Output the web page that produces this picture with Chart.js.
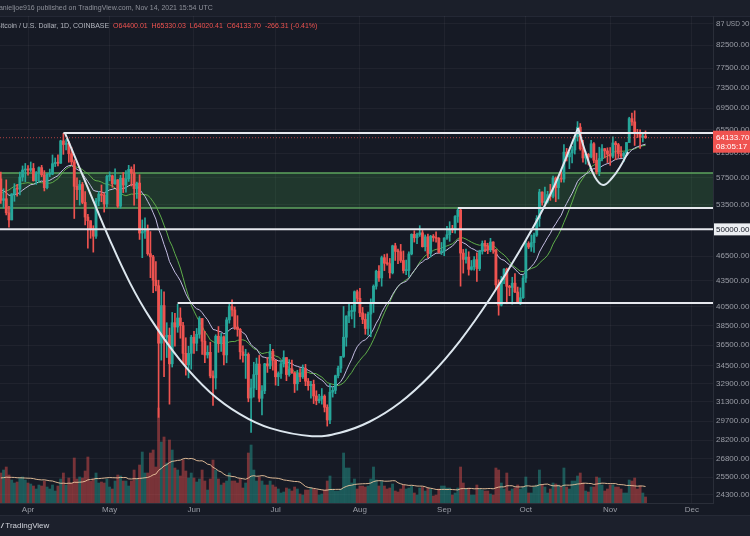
<!DOCTYPE html>
<html>
<head>
<meta charset="utf-8">
<script src="https://cdn.jsdelivr.net/npm/chart.js@4.4.1/dist/chart.umd.min.js"></script>
<style>
  html, body { margin: 0; padding: 0; background: #161a25; }
  #wrap { position: relative; width: 750px; height: 536px; background: #161a25; overflow: hidden; font-family: "Liberation Sans", Arial, sans-serif; }
  #topbar { position: absolute; left: 0; top: 0; width: 750px; height: 16px; background: #1b1f2a; border-bottom: 1px solid #242835; }
  #footer { position: absolute; left: 0; top: 515px; width: 750px; height: 21px; background: #1c202c; border-top: 1px solid #262a36; }
  #chart { position: absolute; left: 0; top: 0; }
  .txt { position: absolute; white-space: nowrap; z-index: 2; }
</style>
</head>
<body>
<div id="wrap">
  <div id="topbar"></div>
  <div id="footer"></div>
  <canvas id="chart" width="750" height="536"></canvas>
  <div class="txt" id="byline" style="left:-5px; top:3px; font-size:7px; line-height:10px; color:#8e919a;"></div>
  <div class="txt" id="legend" style="left:-4px; top:21px; font-size:7px; line-height:10px;"></div>
  <div class="txt" style="left:1px; top:521px; font-size:8px; line-height:10px; color:#d1d4dc;"><b style="font-style:italic;">/</b> TradingView</div>
</div>
<script>
// BTC/USD daily candles, Coinbase, 22 Mar 2021 .. 14 Nov 2021 (index = days after 22 Mar)
const priorCloses = [55850,57410,54090,48890,49680,47060,46280,46100,45160,49590,48440,50350,48360,48750,48880,50970,52380,54880,55860,57800,57230,61190,59000,55630,56900,58930,57650,58030,58100,57350];

const closes = [
  54100,54340,52300,51300,55050,55840,55780,57630,58750,58800,
  58730,58990,57060,58200,59130,57990,56000,58070,58100,59770,59980,59840,63580,62960,63200,61400,60050,56200,55700,56480,53800,51700,51180,50100,49080,54000,55030,54850,53570,57750,
  57830,56600,57200,53250,57450,56400,57350,58850,58250,55850,56700,49500,49700,49900,46800,46400,43550,42900,36700,40650,37300,37500,34700,38800,38350,39300,38500,35700,34600,35700,37300,
  36700,37600,39250,36900,35550,35800,33580,33400,37400,36700,37340,35550,39100,40550,40170,38350,38100,35850,35500,35600,31620,32500,33700,34680,31600,32250,34700,34500,35900,35040,
  33500,33800,34700,35300,33700,34230,33860,32870,33800,33500,34260,33100,32700,32820,31800,31400,31530,31780,30840,29790,32130,32290,33600,34290,35400,37300,39500,40000,40020,42210,41460,
  39850,39150,38200,39720,40880,42840,44620,43820,46300,45600,45560,44430,47820,47100,47050,45950,44700,44700,46770,49330,48870,49290,49530,47700,48990,46850,49080,48900,48800,46990,47150,
  48820,49280,50000,49940,51780,52700,46880,46080,46370,44850,45170,46050,44950,47110,48140,47770,47300,48310,47260,43000,40700,43570,44880,42830,42700,43200,42180,41030,41530,43800,
  48120,47660,48230,49230,51500,55330,53800,53950,54960,54690,57490,56010,57370,57320,61670,60880,61520,62030,64300,66000,62240,60700,61300,60870,63080,60330,58460,60600,62250,61880,61320,
  61000,63230,62930,61420,61010,61520,63300,67550,66950,64900,64800,64200,64400.01,64133.70
];
const highs = [
  58430,55830,57200,53230,55100,56600,56500,58400,59400,59800,
  59470,60040,59800,58500,59250,59500,58650,58160,58900,61200,60700,61200,63700,64900,63800,63500,62500,60400,57500,57100,56800,55400,52100,51200,50500,54400,55400,56400,55200,57950,
  58450,57950,58950,57250,57900,58350,58650,59500,59250,59600,56850,58000,51300,51600,50600,49700,46600,45800,43550,42450,42200,38800,38250,39900,39800,40800,40400,38850,37250,36400,37500,
  37900,38200,39450,39250,37900,36450,36800,34050,37550,38400,37700,37450,39350,41000,41300,40500,39550,38200,36450,36100,35750,33300,34850,35250,35500,32700,34750,35300,36600,36100,
  35050,33950,34950,35950,35300,35100,35050,33900,34100,34250,34600,34650,33350,33100,33200,32250,31950,32450,31900,31050,32850,32600,33650,34500,35400,40550,39550,40900,40650,42300,42400,
  42600,40450,39750,39950,41400,43000,44750,45300,46500,46700,46800,46200,47900,48150,47400,48000,47150,46000,47050,49400,49800,49500,50500,49850,49250,49350,49200,49300,49650,48900,48250,
  48900,50400,51050,50550,51900,52900,52950,47350,47400,47050,45950,46450,46900,47250,48450,48500,48150,48800,48350,47350,43600,44000,44950,45000,42950,43900,44350,42750,42650,44100,
  48450,48350,49250,49500,51900,55750,55350,56100,55450,56500,57800,57650,57700,58550,62950,62300,61700,62650,64450,67000,66650,63700,61750,61450,63700,63300,61500,62500,62950,62300,62400,
  62450,64300,63500,63150,62600,61600,63300,67800,68550,69000,65600,65500,64950,65330.03
];
const lows = [
  53650,53000,52000,50300,51300,53960,54700,54900,57000,56900,
  57940,58500,57000,56500,56800,57700,55500,55800,57700,58000,59300,59400,59800,61300,62050,60000,59600,51500,54200,53400,53600,50600,47500,48800,47000,48800,53300,53900,52400,53100,
  57050,56050,56500,53050,52950,55250,55300,56950,56250,53400,54400,48650,46300,48800,46600,43850,42100,42300,30000,35050,33500,35300,31100,34400,36400,37800,37200,34800,33650,33400,34200,
  35700,35950,37200,35600,34800,35250,33400,31000,32400,35800,35900,34600,34800,38750,39500,38100,37400,35150,34850,33350,31300,28800,31700,32350,31300,30200,32000,33900,34250,34100,
  32750,32700,33350,34400,33150,33550,33800,32100,32300,33050,33350,32700,32300,31600,31150,31050,31200,31100,30450,29300,29500,31700,32000,33400,33900,35300,36400,38800,39200,38300,41100,
  39450,38700,37600,37500,37350,39900,42500,43400,42850,44700,45350,43800,44300,45950,45550,45700,44400,44200,43950,46650,48300,48100,49050,47650,47150,46300,46400,48400,48300,46900,46700,
  46550,48650,48400,49550,49500,50950,42850,44400,45600,44150,44750,44750,43400,44700,46750,47050,46800,47050,46850,42500,39600,40600,43150,40850,41750,40800,42100,40900,40750,41450,
  43300,47450,47100,46950,49050,50400,53400,53650,53700,54100,54450,53900,54300,56850,56850,60200,58950,59900,61350,63550,62000,60000,59700,59550,60700,59900,58100,57850,60200,60700,59950,
  59500,60700,60400,60700,60750,60100,61350,63300,66300,62800,64150,62300,63400,64020.41
];
// volume, thousand BTC
const priorVolumes = [28,26,30,24,22,27,25,29,26,23,20,24,28,25,22,20,26,24,22];
const volumes = [
  30,33,36,28,23,20,21,25,26,23,
  20,19,17,14,18,17,22,16,14,18,12,17,24,30,18,25,20,45,24,26,25,32,46,22,24,30,20,21,20,24,
  16,14,22,28,27,22,22,17,22,33,24,38,51,30,30,50,53,36,95,61,66,40,63,53,35,33,27,43,32,25,30,
  25,21,24,33,22,13,24,43,33,24,18,20,22,30,22,22,20,24,15,20,50,58,33,22,26,22,18,18,22,18,
  16,14,10,11,15,14,12,16,14,9,8,13,13,15,14,13,8,9,13,22,27,14,12,12,14,50,35,35,20,24,14,
  17,17,16,17,24,36,23,17,22,17,14,15,19,12,11,14,18,14,15,17,10,8,15,16,12,15,14,7,8,14,17,
  17,15,15,8,10,15,36,20,14,15,8,8,18,14,13,12,12,9,8,35,33,20,14,30,12,14,15,18,14,16,
  26,10,10,16,18,33,18,16,10,14,20,19,18,16,35,16,14,22,22,27,30,20,12,11,16,16,26,25,18,12,14,
  18,18,16,16,14,10,10,23,22,25,14,17,10,6
];

// axes
const monthLabels = ['Apr', 'May', 'Jun', 'Jul', 'Aug', 'Sep', 'Oct', 'Nov', 'Dec'];
const monthStarts = [10, 40, 71, 101, 132, 163, 193, 224, 254];
const priceTicks = [87500, 82500, 77500, 73500, 69500, 65500, 61500, 57500, 53500, 46500, 43500, 40500, 38500, 36500, 34500, 32900, 31300, 29700, 28200, 26800, 25500, 24300];

// drawings
const levelStarts = [23, 168, -5, 65];
const levelPrices = [64950, 52980, 50000, 40930];
const zonePrices = [58260, 52980];
const cupDays = [23.6, 32.05, 40.1, 47.5, 54.9, 65.9, 76.9, 87.9, 99.0, 114.4, 124.7, 135.7, 146.8, 157.8, 168.8, 179.9, 190.9, 201.9, 212.2];
const cupPrices = [64950, 55940, 48570, 43210, 39290, 35050, 32130, 30270, 29140, 28510, 28780, 29670, 31240, 33620, 36940, 41460, 47270, 54890, 65840];
const miniCupDays = [212.2, 215.5, 218.4, 221.4, 224.7, 227.6, 230.6];
const miniCupPrices = [65840, 60850, 57630, 56400, 57480, 59220, 61690];

// crypto trades round the clock, so each day opens at the prior close
const opens = closes.map((c, i) => i === 0 ? priorCloses[priorCloses.length - 1] : closes[i - 1]);
const last = closes.length - 1;

function sma(src, len) {
  return src.map((v, i) => {
    const s = src.slice(Math.max(0, i - len + 1), i + 1);
    return s.reduce((a, b) => a + b, 0) / s.length;
  });
}
function ema(src, len) {
  const k = 2 / (len + 1);
  let e = src[0];
  return src.map(v => (e = v * k + e * (1 - k)));
}
const allCloses = priorCloses.concat(closes);
const fastMa = ema(allCloses, 20).slice(priorCloses.length);
const slowMa = sma(allCloses, 20).slice(priorCloses.length);
const volMa = sma(priorVolumes.concat(volumes), 20).slice(priorVolumes.length);

const UP = '#26a69a', DOWN = '#ef5350';
const isUp = i => closes[i] >= opens[i];

// header texts
document.getElementById('byline').textContent = 'danieljoe916 published on TradingView.com, Nov 14, 2021 15:54 UTC';
const chg = closes[last] - opens[last];
document.getElementById('legend').innerHTML =
  '<span style="color:#b2b5be">Bitcoin / U.S. Dollar, 1D, COINBASE</span>' +
  '<span style="color:#ef5350">&nbsp; O' + opens[last].toFixed(2) + ' &nbsp;H' + highs[last].toFixed(2) +
  ' &nbsp;L' + lows[last].toFixed(2) + ' &nbsp;C' + closes[last].toFixed(2) + ' &nbsp;' + chg.toFixed(2) +
  ' (' + (chg / opens[last] * 100).toFixed(2) + '%)</span>';

const line = (xs, ys, color, width, extra) => Object.assign({
  type: 'line',
  data: xs.map((x, i) => ({ x: x, y: ys[i] })),
  borderColor: color,
  borderWidth: width,
  pointRadius: 0,
  fill: false,
  yAxisID: 'y'
}, extra || {});

const datasets = [
  line([-5, 300], [zonePrices[0], zonePrices[0]], '#5fa35f', 1.5, { order: 20 }),
  line([-5, 300], [zonePrices[1], zonePrices[1]], '#5fa35f', 1.5, { order: 19, fill: '-1', backgroundColor: 'rgba(76,175,80,0.2)' }),
  {
    type: 'bar', yAxisID: 'vol', order: 15, grouped: false, barThickness: 2.2,
    data: volumes.map((v, i) => ({ x: i, y: v })),
    backgroundColor: volumes.map((v, i) => isUp(i) ? 'rgba(38,166,154,0.45)' : 'rgba(239,83,80,0.45)')
  },
  line(volumes.map((v, i) => i), volMa, 'rgba(240,200,160,0.9)', 1, { yAxisID: 'vol', order: 14 }),
  line(closes.map((v, i) => i), slowMa, '#5fae4a', 1, { order: 8 }),
  line(closes.map((v, i) => i), fastMa, '#c4bde2', 1, { order: 7 }),
  {
    type: 'bar', yAxisID: 'y', order: 5, grouped: false, barThickness: 1,
    data: closes.map((c, i) => ({ x: i, y: [lows[i], highs[i]] })),
    backgroundColor: closes.map((c, i) => isUp(i) ? UP : DOWN)
  },
  {
    type: 'bar', yAxisID: 'y', order: 4, grouped: false, barThickness: 2.2, minBarLength: 1,
    data: closes.map((c, i) => ({ x: i, y: [opens[i], c] })),
    backgroundColor: closes.map((c, i) => isUp(i) ? UP : DOWN)
  }
];
levelStarts.forEach((s, k) => {
  datasets.push(line([s, 300], [levelPrices[k], levelPrices[k]], '#e6e8ee', 2, { order: 2 }));
});
datasets.push(line(cupDays, cupPrices, '#dce6ee', 2, { order: 1, tension: 0.4 }));
datasets.push(line(miniCupDays, miniCupPrices, '#dce6ee', 2, { order: 1, tension: 0.4 }));

const overlay = {
  id: 'overlay',
  afterDatasetsDraw(chart) {
    const { ctx, chartArea: a, scales: { y } } = chart;
    const py = y.getPixelForValue(closes[last]);
    ctx.save();
    ctx.strokeStyle = 'rgba(239,83,80,0.7)';
    ctx.lineWidth = 1;
    ctx.setLineDash([1, 2]);
    ctx.beginPath();
    ctx.moveTo(a.left, py);
    ctx.lineTo(a.right, py);
    ctx.stroke();
    ctx.restore();
  },
  afterDraw(chart) {
    const { ctx, chartArea: a, scales: { y } } = chart;
    ctx.save();
    ctx.font = '8px "Liberation Sans"';
    ctx.textBaseline = 'middle';
    ctx.textAlign = 'left';
    // last price tag
    const py = y.getPixelForValue(closes[last]);
    ctx.fillStyle = '#ef5350';
    ctx.fillRect(a.right, py - 7, 37, 22);
    ctx.fillStyle = '#ffffff';
    ctx.fillText(closes[last].toFixed(2), a.right + 3, py);
    ctx.fillText('08:05:17', a.right + 3, py + 9.5);
    // 50000 level tag
    const p50 = y.getPixelForValue(levelPrices[2]);
    ctx.fillStyle = '#eceef2';
    ctx.fillRect(a.right + 1, p50 - 6, 36, 12);
    ctx.fillStyle = '#131722';
    ctx.fillText(levelPrices[2].toFixed(2), a.right + 3, p50 + 0.5);
    // currency badge over the top tick
    const pTop = y.getPixelForValue(priceTicks[0]);
    ctx.fillStyle = '#161a25';
    ctx.fillRect(a.right + 11, pTop - 5, 18, 10);
    ctx.fillStyle = '#9a9da6';
    ctx.font = '6.5px "Liberation Sans"';
    ctx.textAlign = 'center';
    ctx.fillText('USD', a.right + 20, pTop + 0.5);
    ctx.restore();
  }
};

Chart.defaults.font.family = '"Liberation Sans", Arial, sans-serif';

new Chart(document.getElementById('chart'), {
  type: 'bar',
  data: { datasets: datasets },
  options: {
    responsive: false,
    animation: false,
    layout: { padding: { top: 16, bottom: 21, left: 0, right: 0 } },
    plugins: { legend: { display: false }, tooltip: { enabled: false } },
    scales: {
      x: {
        type: 'linear',
        min: -0.3,
        max: 261.8,
        offset: false,
        grid: { color: 'rgba(255,255,255,0.045)', drawTicks: false, offset: false },
        border: { color: '#2a2e39' },
        ticks: {
          color: '#9a9da6', font: { size: 8 }, padding: 2, autoSkip: false, maxRotation: 0,
          callback: (v, i) => monthLabels[i]
        },
        afterBuildTicks: s => { s.ticks = monthStarts.map(v => ({ value: v })); },
        afterFit: s => { s.height = 12; }
      },
      y: {
        type: 'logarithmic',
        position: 'right',
        min: 23777,
        max: 89262,
        grid: { color: 'rgba(255,255,255,0.045)', drawTicks: false },
        border: { color: '#2a2e39' },
        ticks: {
          color: '#9a9da6', font: { size: 8 }, padding: 3, autoSkip: false,
          callback: v => Number(v).toFixed(2)
        },
        afterBuildTicks: s => { s.ticks = priceTicks.map(v => ({ value: v })); },
        afterFit: s => { s.width = 37; }
      },
      vol: { type: 'linear', display: false, min: 0, max: 487 }
    }
  },
  plugins: [overlay]
});
</script>
</body>
</html>
